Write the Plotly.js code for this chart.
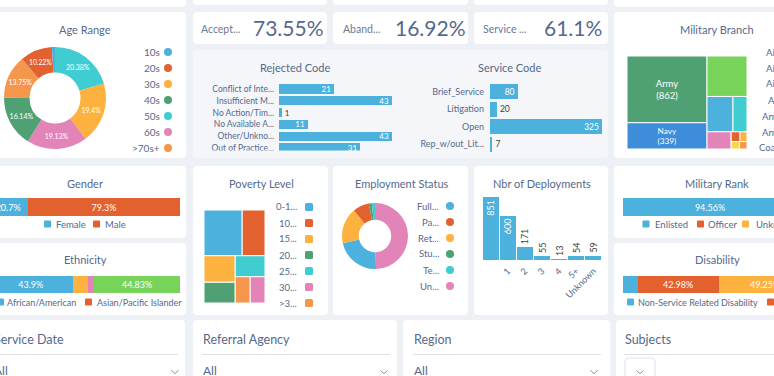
<!DOCTYPE html>
<html>
<head>
<meta charset="utf-8">
<script src="https://cdn.plot.ly/plotly-3.0.1.min.js"></script>
<style>
html,body{margin:0;padding:0;background:#edf0f5;overflow:hidden;}
#chart{width:774px;height:376px;}
</style>
</head>
<body>
<div id="chart"></div>
<script>
// ================= DATA =================
const kpiLabels = ["Accept...", "Aband...", "Service ..."];
const kpiValues = [73.55, 16.92, 61.1];

const ageLabels = ["10s", "20s", "30s", "40s", "50s", "60s", ">70s+"];
const ageValues = [0.98, 10.22, 19.4, 16.14, 20.38, 19.13, 13.75];

const rejectedCodes = ["Conflict of Inte...", "Insufficient M...", "No Action/Tim...", "No Available A...", "Other/Unkno...", "Out of Practice..."];
const rejectedCounts = [21, 43, 1, 11, 43, 31];

const serviceCodes = ["Brief_Service", "Litigation", "Open", "Rep_w/out_Lit..."];
const serviceCounts = [80, 20, 325, 7];

const branchNames = ["Army", "Navy", "Air Force", "Marine Corps", "Army National Guard", "Army Reserve", "Air Force Reserve", "Navy Reserve", "Coast Guard", "Air National Guard"];
const branchCounts = [862, 339, 261, 148, 80, 67, 14, 11, 10, 9];
const branchLegend = ["Air Force", "Air Force Reserve", "Air National Guard", "Army", "Army National Guard", "Army Reserve", "Coast Guard"];

const genderLabels = ["Female", "Male"];
const genderShares = [20.7, 79.3];

const ethnicityLabels = ["African/American", "Asian/Pacific Islander", "Hispanic", "Native American", "White"];
const ethnicityShares = [43.9, 0.4, 7.5, 3.37, 44.83];

const povertyLabels = ["0-1...", "10...", "15...", "20...", "25...", "30...", ">3..."];
const povertyCounts = [310, 185, 147, 115, 111, 69, 70];

const employmentLabels = ["Full...", "Pa...", "Ret...", "Stu...", "Te...", "Un..."];
const employmentShares = [22, 8, 17.5, 1.5, 1.5, 49.5];

const deployLabels = ["", "1", "2", "3", "4", "5+", "Unknown"];
const deployCounts = [851, 600, 171, 55, 13, 54, 59];

const rankLabels = ["Enlisted", "Officer", "Unknown"];
const rankShares = [94.56, 3.5, 1.94];

const disabilityLabels = ["Non-Service Related Disability", "Service Related Disability", "Unknown"];
const disabilityShares = [7.77, 42.98, 49.25];

const filterTitles = ["Service Date", "Referral Agency", "Region", "Subjects"];
const filterValues = ["All", "All", "All", ""];

// ================= STYLE =================
const C = {
  blue: "#4cb1dc", red: "#e2612f", orange: "#fdb13f", green: "#4fa174",
  cyan: "#40cdd2", pink: "#e384b8", lorange: "#f5964d", lime: "#77d35a",
  navy: "#3e8ddb", yellow: "#f7d84a"
};
const ageColors = [C.blue, C.red, C.orange, C.green, C.cyan, C.pink, C.lorange];
const povertyColors = [C.blue, C.red, C.orange, C.green, C.cyan, C.pink, C.lorange];
const employmentColors = [C.blue, C.red, C.orange, C.green, C.cyan, C.pink];
const branchColors = [C.green, C.navy, C.lime, C.blue, C.cyan, C.pink, C.red, C.orange, C.yellow, C.lorange];
const genderColors = [C.blue, C.red];
const ethnicityColors = [C.blue, C.red, C.orange, C.pink, C.lime];
const rankColors = [C.blue, C.red, C.orange];
const disabilityColors = [C.blue, C.red, C.orange];

const W = 774, H = 376;
const FONT = "Lato, 'Open Sans', sans-serif";
const TXT = "#54698d";
const px = x => x / W;
const py = y => 1 - y / H;

const shapes = [];
const annotations = [];
const traces = [];

function roundPath(x0, y0, x1, y1, r) {
  const X = v => px(v).toFixed(5), Y = v => py(v).toFixed(5);
  return `M${X(x0 + r)},${Y(y0)} L${X(x1 - r)},${Y(y0)} Q${X(x1)},${Y(y0)} ${X(x1)},${Y(y0 + r)} ` +
         `L${X(x1)},${Y(y1 - r)} Q${X(x1)},${Y(y1)} ${X(x1 - r)},${Y(y1)} L${X(x0 + r)},${Y(y1)} ` +
         `Q${X(x0)},${Y(y1)} ${X(x0)},${Y(y1 - r)} L${X(x0)},${Y(y0 + r)} Q${X(x0)},${Y(y0)} ${X(x0 + r)},${Y(y0)} Z`;
}
function card(x0, y0, x1, y1, fill, layer, line) {
  shapes.push({type: 'path', xref: 'paper', yref: 'paper', path: roundPath(x0, y0, x1, y1, 4),
    fillcolor: fill || '#ffffff', line: {width: line ? 1 : 0, color: line || 'rgba(0,0,0,0)'}, layer: layer || 'below'});
}
function rect(x0, y0, x1, y1, fill, r) {
  shapes.push({type: 'path', xref: 'paper', yref: 'paper', path: roundPath(x0, y0, x1, y1, r || 0.01),
    fillcolor: fill, line: {width: 0, color: 'rgba(0,0,0,0)'}, layer: 'above'});
}
function dot(cx, cy, r, fill) {
  shapes.push({type: 'circle', xref: 'paper', yref: 'paper', x0: px(cx - r), x1: px(cx + r), y0: py(cy + r), y1: py(cy - r),
    fillcolor: fill, line: {width: 0, color: 'rgba(0,0,0,0)'}, layer: 'above'});
}
function hline(x0, x1, y, color) {
  shapes.push({type: 'line', xref: 'paper', yref: 'paper', x0: px(x0), x1: px(x1), y0: py(y), y1: py(y),
    line: {width: 1, color: color || '#dde2ea'}, layer: 'above'});
}
function chevron(cx, cy) {
  shapes.push({type: 'path', xref: 'paper', yref: 'paper',
    path: `M${px(cx - 3.5)},${py(cy - 1.8)} L${px(cx)},${py(cy + 1.8)} L${px(cx + 3.5)},${py(cy - 1.8)}`,
    fillcolor: 'rgba(0,0,0,0)', line: {width: 1, color: '#7d8a9e'}, layer: 'above'});
}
function text(x, y, t, size, color, anchor) {
  annotations.push({xref: 'paper', yref: 'paper', x: px(x), y: py(y), text: t, showarrow: false,
    xanchor: anchor || 'center', yanchor: 'middle', borderpad: 0,
    font: {family: FONT, size: size, color: color || TXT}});
}

// ================= CARDS =================
[[-10, -10, 186, 7], [193, -10, 327, 5], [333, -10, 468, 5], [474, -10, 608, 5], [614, -10, 790, 7],
 [-10, 12, 186, 158], [193, 12, 327, 44], [333, 12, 468, 44], [474, 12, 608, 44], [614, 12, 790, 158],
 [-10, 166, 186, 238], [-10, 243, 186, 315], [193, 166, 328, 315], [333, 166, 468, 315], [474, 166, 608, 315],
 [614, 166, 790, 238], [614, 243, 790, 315],
 [-10, 320, 185, 390], [193, 320, 397, 390], [403, 320, 610, 390], [616, 320, 790, 390]
].forEach(b => card(b[0], b[1], b[2], b[3]));
card(193, 50, 608, 158, '#f4f6f9');

// ================= KPIs =================
const kpiPos = [[200, 252], [342, 394], [482, 543]];
kpiLabels.forEach((l, i) => {
  text(kpiPos[i][0], 28.5, l, 10.5, '#6b7a90', 'left');
  text(kpiPos[i][1], 27.5, kpiValues[i] + '%', 21, TXT, 'left');
});

// ================= TITLES =================
[["Age Range", 85, 29], ["Rejected Code", 295, 67], ["Service Code", 510, 67], ["Military Branch", 717, 29],
 ["Gender", 85, 183], ["Ethnicity", 85, 259], ["Poverty Level", 261, 183], ["Employment Status", 402, 184],
 ["Nbr of Deployments", 542, 184], ["Military Rank", 717, 183], ["Disability", 717, 259]
].forEach(t => text(t[1], t[2], t[0], 11, TXT));

// ================= AGE DONUT =================
traces.push({
  type: 'pie', labels: ageLabels, values: ageValues, sort: true, direction: 'clockwise', rotation: 0,
  hole: 0.5, marker: {colors: ageColors, line: {width: 0}},
  text: ageValues.map(v => v >= 5 ? v + '%' : ''), textinfo: 'text', textposition: 'inside',
  insidetextorientation: 'horizontal', textfont: {family: FONT, size: 7, color: '#ffffff'},
  domain: {x: [px(4), px(106)], y: [py(149), py(47)]}, hoverinfo: 'none'
});
ageLabels.forEach((l, i) => {
  const y = 52 + 16 * i;
  text(161, y, l, 10, TXT, 'right');
  dot(168, y, 4, ageColors[i]);
});

// ================= EMPLOYMENT DONUT =================
traces.push({
  type: 'pie', labels: employmentLabels, values: employmentShares, sort: true, direction: 'clockwise', rotation: 0,
  hole: 0.49, marker: {colors: employmentColors, line: {width: 0}}, textinfo: 'none',
  domain: {x: [px(342), px(408)], y: [py(269), py(203)]}, hoverinfo: 'none'
});
employmentLabels.forEach((l, i) => {
  const y = 206 + 16 * i;
  text(440, y, l, 9.5, TXT, 'right');
  dot(450, y, 4, employmentColors[i]);
});

// ================= MILITARY BRANCH TREEMAP =================
traces.push({
  type: 'treemap', labels: branchNames, parents: branchNames.map(() => ''), values: branchCounts,
  marker: {colors: branchColors, line: {width: 1, color: '#ffffff'}, pad: {t: 0, l: 0, r: 0, b: 0}},
  leaf: {opacity: 1}, tiling: {packing: 'squarify', squarifyratio: 1.5, pad: 0}, pathbar: {visible: false},
  text: branchNames.map((n, i) => branchCounts[i] > 300 ? n + '<br>(' + branchCounts[i] + ')' : ''),
  textinfo: 'text', textposition: 'middle center', textfont: {family: FONT, size: 9.5, color: '#ffffff'},
  domain: {x: [px(627), px(747)], y: [py(149), py(56)]}, hoverinfo: 'none', sort: true
});
const branchLegendX = [765, 765, 765, 767, 761, 761, 758];
branchLegend.forEach((l, i) => text(branchLegendX[i], 52 + 16 * i, l, 9.5, TXT, 'left'));

// ================= POVERTY TREEMAP =================
traces.push({
  type: 'treemap', labels: povertyLabels, parents: povertyLabels.map(() => ''), values: povertyCounts,
  marker: {colors: povertyColors, line: {width: 1, color: '#ffffff'}, pad: {t: 0, l: 0, r: 0, b: 0}},
  leaf: {opacity: 1}, tiling: {packing: 'squarify', squarifyratio: 1, pad: 0}, pathbar: {visible: false},
  textinfo: 'none', domain: {x: [px(204), px(265)], y: [py(303), py(210)]}, hoverinfo: 'none', sort: true
});
povertyLabels.forEach((l, i) => {
  const y = 207 + 16 * i;
  text(298, y, l, 9.5, TXT, 'right');
  rect(305, y - 4, 313, y + 4, povertyColors[i], 1.5);
});

// ================= REJECTED CODE =================
traces.push({
  type: 'bar', orientation: 'h', x: rejectedCounts, y: rejectedCodes, xaxis: 'x', yaxis: 'y', width: 0.78,
  marker: {color: C.blue}, text: rejectedCounts.map(String), textposition: 'auto', textangle: 0, insidetextanchor: 'end',
  textfont: {family: FONT, size: 8}, insidetextfont: {color: '#ffffff', size: 8, family: FONT},
  outsidetextfont: {color: '#3e3e3c', size: 8, family: FONT}, constraintext: 'none', cliponaxis: false, hoverinfo: 'none'
});
// ================= SERVICE CODE =================
traces.push({
  type: 'bar', orientation: 'h', x: serviceCounts, y: serviceCodes, xaxis: 'x2', yaxis: 'y2', width: 0.88,
  marker: {color: C.blue}, text: serviceCounts.map(String), textposition: 'auto', textangle: 0, insidetextanchor: 'end',
  textfont: {family: FONT, size: 8.5}, insidetextfont: {color: '#ffffff', size: 8.5, family: FONT},
  outsidetextfont: {color: '#3e3e3c', size: 8.5, family: FONT}, constraintext: 'none', cliponaxis: false, hoverinfo: 'none'
});
// ================= DEPLOYMENTS =================
traces.push({
  type: 'bar', x: deployLabels.map((_, i) => i), y: deployCounts, xaxis: 'x3', yaxis: 'y3', width: 0.93,
  marker: {color: C.blue}, text: deployCounts.map(String), textposition: 'auto', textangle: -90, insidetextanchor: 'end',
  textfont: {family: FONT, size: 9}, insidetextfont: {color: '#ffffff', size: 9, family: FONT},
  outsidetextfont: {color: '#3e3e3c', size: 9, family: FONT}, constraintext: 'none', cliponaxis: false, hoverinfo: 'none'
});

// ================= STACKED 100% BARS =================
function stacked(labels, shares, colors, n) {
  labels.forEach((l, i) => traces.push({
    type: 'bar', orientation: 'h', name: l, x: [shares[i]], y: [0], xaxis: 'x' + n, yaxis: 'y' + n, width: 1,
    marker: {color: colors[i], line: {width: 0}}, text: [shares[i] >= 10 ? shares[i] + '%' : ''],
    textposition: 'inside', insidetextanchor: 'middle', textangle: 0, constraintext: 'none',
    textfont: {family: FONT, size: 9, color: '#ffffff'}, hoverinfo: 'none'
  }));
}
stacked(genderLabels, genderShares, genderColors, 4);
stacked(ethnicityLabels, ethnicityShares, ethnicityColors, 5);
stacked(rankLabels, rankShares, rankColors, 6);
stacked(disabilityLabels, disabilityShares, disabilityColors, 7);

// visible window of a stacked bar whose full extent runs from fullStart to fullEnd (px)
function stackRange(fullStart, fullEnd, visStart, visEnd, total) {
  return [(visStart - fullStart) / (fullEnd - fullStart) * total, (visEnd - fullStart) / (fullEnd - fullStart) * total];
}
const sum = a => a.reduce((s, v) => s + v, 0);

function legendRow(items, labels, colors, y, size) {
  items.forEach((it, i) => {
    rect(it[0] - 3.5, y - 3.5, it[0] + 3.5, y + 3.5, colors[i], 1);
    text(it[1], y, labels[i], size, TXT, 'left');
  });
}
legendRow([[47.5, 55], [96.5, 104]], genderLabels, genderColors, 224, 9.5);
legendRow([[0.5, 6], [88.5, 96]], ethnicityLabels, ethnicityColors, 302, 9);
legendRow([[646, 654], [700.5, 707], [745.5, 755]], rankLabels, rankColors, 224, 9.5);
legendRow([[630.5, 637], [770.5, 779]], disabilityLabels, disabilityColors, 302, 9);

// cover for scrolled-off part of Rejected Code list
rect(194, 150.5, 400, 157.5, '#f4f6f9');

// ================= FILTERS =================
const filterX = [-7, 202, 413, 624];
const filterLineEnd = [178, 390, 601, 790];
filterTitles.forEach((t, i) => {
  text(filterX[i], 339, t, 12.5, TXT, 'left');
  hline(filterX[i] + (i === 0 ? -5 : 0), filterLineEnd[i], 354.5);
  if (filterValues[i]) text(filterX[i], 370, filterValues[i], 12, TXT, 'left');
});
[175, 384, 594].forEach(x => chevron(x, 372));
card(625, 358, 655, 384, '#ffffff', 'above', '#dde1e8');
chevron(640, 372);

// ================= LAYOUT =================
const hidden = {visible: false, showgrid: false, zeroline: false, fixedrange: true};
const layout = {
  width: W, height: H, margin: {l: 0, r: 0, t: 0, b: 0, pad: 0},
  paper_bgcolor: '#edf0f5', plot_bgcolor: 'rgba(0,0,0,0)',
  font: {family: FONT, color: TXT}, showlegend: false, hovermode: false,
  barmode: 'stack', bargap: 0,
  xaxis: Object.assign({}, hidden, {domain: [px(279), px(392)], range: [0, Math.max(...rejectedCounts)], anchor: 'y'}),
  yaxis: {domain: [py(153.9), py(83.1)], anchor: 'x', type: 'category', range: [rejectedCodes.length - 0.5, -0.5],
    showgrid: false, zeroline: false, showline: false, ticks: '', ticklabelstandoff: 4,
    tickfont: {family: FONT, size: 8.5, color: TXT}},
  xaxis2: Object.assign({}, hidden, {domain: [px(490), px(602)], range: [0, Math.max(...serviceCounts)], anchor: 'y2'}),
  yaxis2: {domain: [py(153), py(83)], anchor: 'x2', type: 'category', range: [serviceCodes.length - 0.5, -0.5],
    showgrid: false, zeroline: false, showline: false, ticks: '', ticklabelstandoff: 5,
    tickfont: {family: FONT, size: 9, color: TXT}},
  xaxis3: {domain: [px(482), px(602)], anchor: 'y3', range: [-0.5, deployLabels.length - 0.5],
    tickmode: 'array', tickvals: deployLabels.map((_, i) => i), ticktext: deployLabels, tickangle: -45,
    showgrid: false, zeroline: false, showline: false, ticks: '', ticklabelstandoff: 3,
    tickfont: {family: FONT, size: 9, color: TXT}},
  yaxis3: Object.assign({}, hidden, {domain: [py(260), py(197)], anchor: 'x3', range: [0, Math.max(...deployCounts)]}),
  xaxis4: Object.assign({}, hidden, {domain: [0, px(180)], anchor: 'y4', range: stackRange(-11.7, 180, 0, 180, sum(genderShares))}),
  yaxis4: Object.assign({}, hidden, {domain: [py(216), py(198)], anchor: 'x4', range: [-0.5, 0.5]}),
  xaxis5: Object.assign({}, hidden, {domain: [0, px(180)], anchor: 'y5', range: stackRange(-11.3, 180, 0, 180, sum(ethnicityShares))}),
  yaxis5: Object.assign({}, hidden, {domain: [py(293), py(276)], anchor: 'x5', range: [-0.5, 0.5]}),
  xaxis6: Object.assign({}, hidden, {domain: [px(623), 1], anchor: 'y6', range: stackRange(623, 807, 623, 774, sum(rankShares))}),
  yaxis6: Object.assign({}, hidden, {domain: [py(216), py(198)], anchor: 'x6', range: [-0.5, 0.5]}),
  xaxis7: Object.assign({}, hidden, {domain: [px(623), 1], anchor: 'y7', range: stackRange(623, 811.5, 623, 774, sum(disabilityShares))}),
  yaxis7: Object.assign({}, hidden, {domain: [py(293), py(276)], anchor: 'x7', range: [-0.5, 0.5]}),
  shapes: shapes, annotations: annotations
};

Plotly.newPlot('chart', traces, layout, {staticPlot: true, displayModeBar: false});
</script>
</body>
</html>
